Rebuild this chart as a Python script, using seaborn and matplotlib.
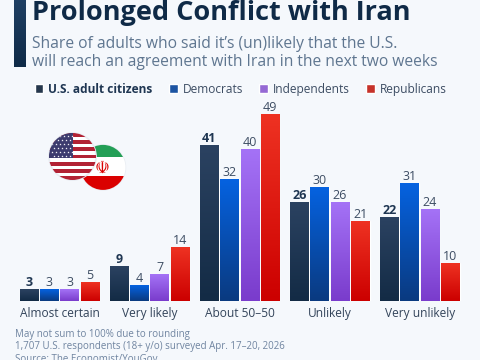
import numpy as np
import pandas as pd
import matplotlib
matplotlib.use('Agg')
import matplotlib.pyplot as plt
from matplotlib.colors import LinearSegmentedColormap
from matplotlib.patches import Circle, Rectangle
import seaborn as sns

answers = ['Almost certain', 'Very likely', 'About 50\u201350', 'Unlikely', 'Very unlikely']
groups = ['U.S. adult citizens', 'Democrats', 'Independents', 'Republicans']
citizens = [3, 9, 41, 26, 22]
democrats = [3, 4, 32, 30, 31]
independents = [3, 7, 40, 26, 24]
republicans = [5, 14, 49, 21, 10]

title = 'Prolonged Conflict with Iran'
sub1 = 'Share of adults who said it\u2019s (un)likely that the U.S.'
sub2 = 'will reach an agreement with Iran in the next two weeks'
note1 = 'May not sum to 100% due to rounding'
note2 = '1,707 U.S. respondents (18+ y/o) surveyed Apr. 17\u201320, 2026'
source = 'Source: The Economist/YouGov'

bg = '#f5f8fc'
solid = ['#1f3652', '#0650b8', '#9257e6', '#e01a10']
grads = [('#2b4261', '#132b45'), ('#0562e0', '#0a3a80'), ('#a472f6', '#7a3ccc'), ('#ee3222', '#cc0000')]
W, H = 480, 360

df = pd.DataFrame({'answer': answers * 4,
                   'group': np.repeat(groups, 5),
                   'share': citizens + democrats + independents + republicans})

sns.set_theme(style='white')
plt.rcParams['font.family'] = ['Open Sans', 'DejaVu Sans']
fig = plt.figure(figsize=(W / 100, H / 100), dpi=100, facecolor=bg)

# axes: baseline at y=301, 3.8 px per point
ax = fig.add_axes([14.5 / W, (H - 301) / H, 450.5 / W, 200 / H], facecolor='none')
sns.barplot(data=df, x='answer', y='share', hue='group', hue_order=groups, palette=solid,
            width=0.9, gap=0.08, ax=ax)
ax.set_xlim(-0.5, 4.5)
ax.set_ylim(0, 200 / 3.8)
sns.despine(ax=ax, left=True, bottom=True)
ax.set_yticks([])
ax.set_xlabel('')
ax.set_ylabel('')
ax.tick_params(axis='x', length=0, pad=4, labelsize=8.6, labelcolor='#33445a')

# gradient on top of each bar
for i, cont in enumerate(ax.containers):
    cmap = LinearSegmentedColormap.from_list('g', [grads[i][1], grads[i][0]])
    for p in cont:
        x0, w, h = p.get_x(), p.get_width(), p.get_height()
        ax.imshow(np.linspace(0, 1, 64).reshape(-1, 1), cmap=cmap, aspect='auto', origin='lower',
                  extent=[x0, x0 + w, 0, h], zorder=3)
    ax.bar_label(cont, padding=0.3, fontsize=9, color='#1f3652' if i == 0 else '#3d4d63',
                 fontweight='bold' if i == 0 else 'normal', zorder=5)
ax.set_xlim(-0.5, 4.5)
ax.set_ylim(0, 200 / 3.8)

leg = ax.legend(loc='upper left', bbox_to_anchor=(20 / 450.5, 1.09), ncols=4, frameon=False,
                fontsize=8.6, handlelength=0.75, handleheight=0.75, handletextpad=0.42,
                columnspacing=1.35, borderpad=0, borderaxespad=0)
for j, t in enumerate(leg.get_texts()):
    t.set_color('#1f3652' if j == 0 else '#3d4d63')
    if j == 0:
        t.set_fontweight('bold')

# overlay in pixel coordinates for header, footer, flags
ov = fig.add_axes([0, 0, 1, 1], facecolor='none')
ov.set_xlim(0, W)
ov.set_ylim(H, 0)
ov.axis('off')

cmap = LinearSegmentedColormap.from_list('g', ['#1f3f63', '#0f2a47'])
ov.imshow(np.linspace(0, 1, 64).reshape(-1, 1), cmap=cmap, aspect='auto', origin='upper',
          extent=[14, 25.5, 67, 0])
ov.set_xlim(0, W)
ov.set_ylim(H, 0)

ov.text(32.5, 19.5, title, fontsize=19.55, fontweight='bold', color='#0f2a47', va='baseline')
ov.text(32, 48, sub1, fontsize=11.25, color='#5f7690', va='baseline')
ov.text(32, 66.5, sub2, fontsize=11.25, color='#5f7690', va='baseline')
ov.text(15, 337, note1, fontsize=7.0, color='#6f84a0', va='baseline')
ov.text(15, 349, note2, fontsize=7.0, color='#6f84a0', va='baseline')
ov.text(15, 361.5, source, fontsize=7.0, color='#6f84a0', va='baseline')

# Iran flag
c2 = Circle((103, 167.4), 22.5, fc='white', ec='#e8ecf2', lw=1, zorder=6)
ov.add_patch(c2)
for y0, hh, col in [(144, 13, '#239f56'), (157, 19, '#ffffff'), (176, 16, '#da0000')]:
    r = Rectangle((79, y0), 48, hh, fc=col, ec='none', zorder=7)
    ov.add_patch(r)
    r.set_clip_path(c2)
ov.text(102.5, 167.5, '\u262b', fontsize=12, color='#da0000', ha='center', va='center', zorder=8,
        family=['DejaVu Sans'])

# US flag
c1 = Circle((72.5, 156.5), 23.5, fc='white', ec='#e8ecf2', lw=1.2, zorder=9)
ov.add_patch(c1)
for k in range(13):
    if k % 2 == 0:
        r = Rectangle((49, 133 + k * 3.62), 48, 3.62, fc='#b22234', ec='none', zorder=10)
        ov.add_patch(r)
        r.set_clip_path(c1)
r = Rectangle((49, 133), 24, 25.3, fc='#3c3b6e', ec='none', zorder=11)
ov.add_patch(r)
r.set_clip_path(c1)
star_y = [136, 140, 144, 148, 152, 156]
for row, sy in enumerate(star_y):
    for sx in np.arange(52 + (row % 2) * 2, 73, 4):
        s = ov.scatter([sx], [sy], s=3, marker='*', color='white', linewidths=0, zorder=12)
        s.set_clip_path(c1)

fig.savefig('out.png', dpi=100, facecolor=bg)
